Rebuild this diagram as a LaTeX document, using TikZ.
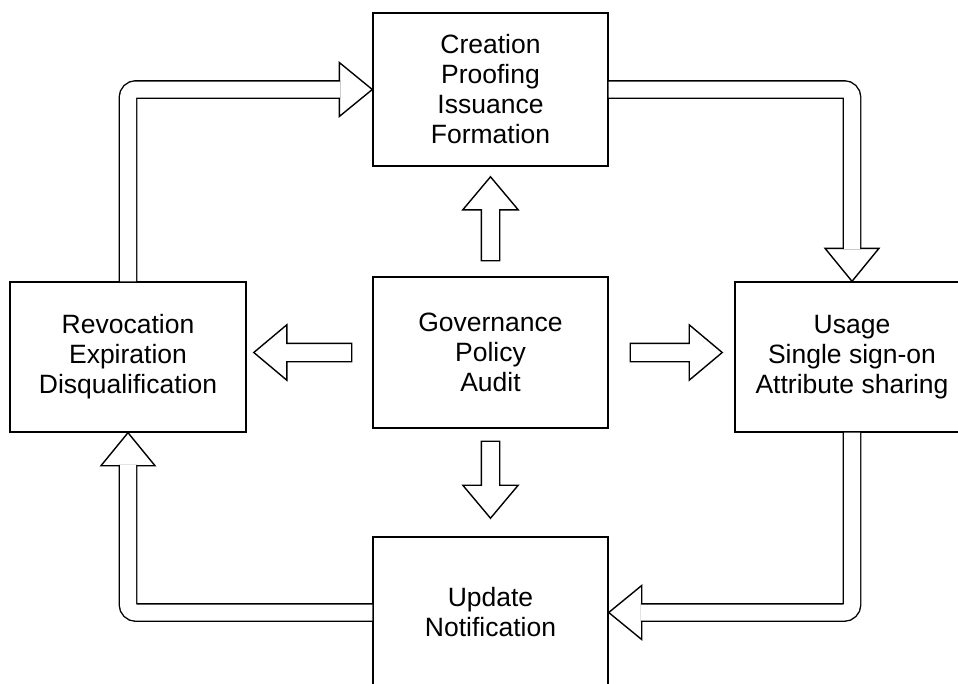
\documentclass[tikz,border=0pt]{standalone}
\usepackage{fontspec}
\setmainfont{Liberation Sans}
\usetikzlibrary{shapes.arrows}

\begin{document}
\begin{tikzpicture}[x=1pt,y=-1pt,
    box/.style={draw,line width=1.4pt,minimum width=235pt,minimum height=151pt,align=center,font=\fontsize{26.5}{30}\selectfont},
    shaft/.style={draw,line width=1.4pt,double=white,double distance=16pt,rounded corners=8pt},
    head/.style={draw,line width=1.4pt,fill=white},
    flat/.style={single arrow,draw,line width=1.4pt,inner sep=8.5pt,minimum width=54pt,single arrow head extend=18.5pt,single arrow tip angle=80,anchor=tip}]
        \useasboundingbox (0,0) rectangle (958,683);
        \clip (0,0) rectangle (958,683);

        \node[box,minimum height=153pt] (create) at (490.5,89.5) {Creation\\Proofing\\Issuance\\Formation};
        \node[box] (govern) at (490.5,352.5) {Governance\\Policy\\Audit};
        \node[box,minimum width=236pt,minimum height=150pt] (revoke) at (128,357) {Revocation\\Expiration\\Disqualification};
        \node[box,minimum width=234pt,minimum height=150pt] (usage) at (852,357) {Usage\\Single sign-on\\Attribute sharing};
        \node[box] (update) at (490.5,612.5) {Update\\Notification};

        % outer cycle
        \draw[head] (create.west) -- ++(-33,-27) -- ++(0,54) -- cycle;
        \draw[head] (usage.north) -- ++(-27,-33) -- ++(54,0) -- cycle;
        \draw[head] (update.east) -- ++(33,-27) -- ++(0,54) -- cycle;
        \draw[head] (revoke.south) -- ++(-27,33) -- ++(54,0) -- cycle;
        \draw[shaft] (revoke.north) |- ([xshift=-32.2pt]create.west);
        \draw[shaft] (create.east) -| ([yshift=32.2pt]usage.north);
        \draw[shaft] (usage.south) |- ([xshift=32.2pt]update.east);
        \draw[shaft] (update.west) -| ([yshift=-32.2pt]revoke.south);

        % from the centre
        \node[flat,rotate=90,minimum height=84pt] (up) at ([yshift=-9pt]create.south) {};
        \node[flat,rotate=180,minimum height=98pt] (left) at ([xshift=6pt]revoke.east |- govern.west) {};
        \node[flat,minimum height=92pt] (right) at ([xshift=-11pt]usage.west |- govern.east) {};
        \node[flat,rotate=-90,minimum height=77pt] (down) at ([yshift=17pt]update.north) {};
    \end{tikzpicture}
\end{document}
